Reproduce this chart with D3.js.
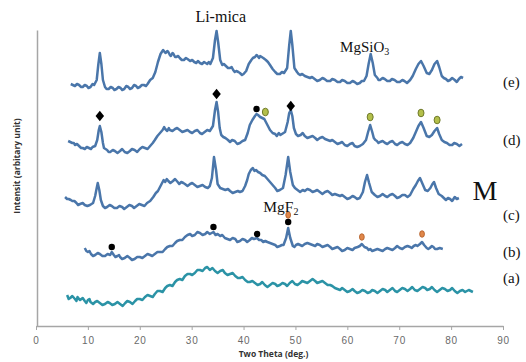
<!DOCTYPE html>
<html><head><meta charset="utf-8">
<script src="https://cdn.jsdelivr.net/npm/d3@7"></script>
<style>html,body{margin:0;padding:0;background:#fff;}svg{display:block;}</style>
</head><body>
<svg id="chart" width="526" height="362"></svg>
<script>
// ---- data (2θ in degrees, intensity in arbitrary units incl. vertical stacking) ----
const xTicks = [0,10,20,30,40,50,60,70,80,90];
const seriesNames = ["(e)","(d)","(c)","(b)","(a)"];
const labelLevels = [239,181,106,69,43];

const curveE = [[6.7,242],[7.1,241],[7.5,240],[7.9,242],[8.3,241],[8.7,239],[9.0,239],[9.4,241],[9.8,240],[10.1,238],[10.5,239],[10.9,242],[11.2,241],[11.7,246],[12.0,261],[12.3,273],[12.6,262],[12.9,246],[13.3,239],[13.6,237],[14.0,237],[14.4,239],[14.8,238],[15.1,236],[15.5,237],[15.9,239],[16.3,238],[16.6,236],[17.0,237],[17.4,240],[17.8,239],[18.1,237],[18.5,238],[18.9,241],[19.3,240],[19.6,238],[20.0,239],[20.4,241],[20.8,241],[21.2,240],[21.5,242],[22.0,246],[22.5,248],[23.0,254],[23.5,264],[24.0,272],[24.5,276],[24.8,274],[25.0,273],[25.3,275],[25.5,274],[25.8,271],[26.0,270],[26.3,273],[26.5,272],[26.8,269],[27.0,269],[27.4,270],[27.7,268],[28.1,266],[28.5,266],[28.9,268],[29.2,267],[29.7,265],[30.1,266],[30.5,264],[30.9,263],[31.2,265],[31.6,263],[32.0,262],[32.4,264],[32.7,263],[33.0,262],[33.3,264],[33.6,262],[34.1,268],[34.5,286],[34.8,295],[35.1,284],[35.5,266],[35.9,261],[36.2,262],[36.6,260],[37.0,258],[37.4,258],[37.7,259],[38.0,256],[38.3,254],[38.6,255],[39.0,254],[39.3,253],[39.7,251],[40.0,252],[40.5,255],[41.0,262],[41.5,266],[41.8,268],[42.2,269],[42.5,271],[42.7,270],[43.0,268],[43.2,270],[43.5,269],[43.8,268],[44.3,266],[44.7,264],[45.1,261],[45.6,257],[46.1,254],[46.5,252],[47.0,252],[47.4,254],[47.8,253],[48.4,258],[48.8,281],[49.1,295],[49.4,281],[49.8,258],[50.3,254],[50.6,252],[50.9,251],[51.3,252],[51.8,250],[52.3,249],[52.8,248],[53.2,249],[53.7,247],[54.2,245],[54.7,246],[55.2,248],[55.6,247],[56.1,245],[56.7,245],[57.1,247],[57.6,246],[58.1,244],[58.6,244],[59.0,246],[59.5,245],[60.0,243],[60.5,243],[61.0,245],[61.4,244],[61.9,242],[62.4,243],[62.8,245],[63.2,245],[63.7,250],[64.1,262],[64.5,272],[64.9,263],[65.3,251],[65.8,248],[66.0,246],[66.3,246],[66.8,248],[67.2,247],[67.7,245],[68.2,245],[68.6,247],[69.1,246],[69.6,244],[70.1,244],[70.6,246],[71.0,245],[71.5,243],[72.1,246],[72.6,250],[73.2,257],[73.7,262],[74.2,265],[74.7,260],[75.3,253],[75.8,252],[76.3,256],[76.8,262],[77.3,265],[77.7,259],[78.2,250],[78.6,248],[79.0,247],[79.4,245],[79.8,246],[80.2,248],[80.7,246],[81.1,244],[81.5,247],[81.9,249],[82.3,248]];

const curveD = [[6.2,185],[6.6,184],[7.0,183],[7.3,183],[7.5,181],[7.9,182],[8.3,180],[8.7,178],[9.0,178],[9.4,177],[9.8,179],[10.2,178],[10.6,177],[10.9,179],[11.4,180],[11.8,186],[12.1,196],[12.3,200],[12.6,194],[12.9,183],[13.1,178],[13.4,177],[13.7,176],[14.0,174],[14.3,174],[14.8,176],[15.2,175],[15.7,173],[16.2,175],[16.6,177],[17.1,174],[17.6,173],[18.1,175],[18.5,177],[19.0,176],[19.5,174],[20.0,177],[20.5,179],[21.0,178],[21.5,177],[22.0,180],[22.5,183],[22.9,186],[23.4,190],[23.9,193],[24.4,196],[24.7,199],[24.9,197],[25.3,195],[25.6,198],[25.8,196],[26.3,195],[26.8,197],[27.2,198],[27.7,196],[28.2,194],[28.7,195],[29.2,196],[29.7,194],[30.1,193],[30.6,195],[31.1,196],[31.6,193],[32.0,192],[32.5,194],[33.0,196],[33.5,195],[34.1,200],[34.5,216],[34.8,224],[35.1,214],[35.4,198],[35.7,191],[36.1,189],[36.5,188],[37.0,186],[37.4,184],[37.8,186],[38.3,185],[38.8,182],[39.3,183],[39.8,185],[40.3,186],[40.8,193],[41.2,201],[41.7,206],[42.2,210],[42.5,212],[42.8,211],[43.2,209],[43.6,208],[44.0,207],[44.3,204],[44.7,200],[45.1,196],[45.6,193],[46.1,192],[46.4,190],[46.8,193],[47.1,191],[47.4,192],[48.0,194],[48.5,204],[48.8,213],[49.1,216],[49.4,210],[49.7,198],[50.1,192],[50.5,190],[51.0,191],[51.4,193],[51.8,190],[52.3,188],[52.8,189],[53.3,190],[53.8,188],[54.2,186],[54.7,188],[55.2,189],[55.7,187],[56.2,186],[56.7,185],[57.1,186],[57.6,184],[58.1,182],[58.6,183],[59.0,184],[59.5,181],[60.0,180],[60.5,182],[61.0,183],[61.4,180],[61.9,179],[62.4,180],[63.0,182],[63.6,186],[64.0,194],[64.4,201],[64.8,194],[65.1,188],[65.4,186],[65.7,185],[66.0,183],[66.3,184],[66.8,185],[67.3,183],[67.7,182],[68.2,184],[68.7,185],[69.2,182],[69.6,181],[70.1,183],[70.6,184],[71.1,182],[71.6,181],[72.1,183],[72.7,188],[73.2,194],[73.7,200],[74.2,204],[74.7,198],[75.3,190],[75.8,189],[76.3,191],[76.8,195],[77.3,198],[77.7,192],[78.2,186],[78.7,184],[79.2,183],[79.7,181],[80.2,181],[80.6,183],[81.1,182],[81.6,180],[82.1,182]];

const curveC = [[5.6,129],[6.0,127],[6.3,127],[6.7,126],[7.0,125],[7.4,125],[7.8,123],[8.1,121],[8.5,122],[9.0,123],[9.4,121],[9.9,120],[10.4,121],[10.7,122],[11.0,123],[11.4,130],[11.7,138],[11.9,143],[12.2,136],[12.5,126],[12.9,120],[13.3,118],[13.7,119],[14.2,121],[14.6,120],[15.1,118],[15.6,118],[16.1,120],[16.6,119],[17.0,117],[17.5,119],[18.0,121],[18.5,120],[18.9,118],[19.4,120],[19.9,122],[20.4,121],[20.9,120],[21.4,123],[22.0,125],[22.6,129],[23.1,133],[23.5,135],[23.8,138],[24.3,143],[24.6,146],[24.9,144],[25.2,147],[25.5,145],[25.9,143],[26.4,145],[26.8,147],[27.3,144],[27.6,142],[28.0,144],[28.4,143],[28.7,142],[29.2,140],[29.7,142],[30.1,143],[30.6,141],[31.1,139],[31.6,140],[32.1,141],[32.6,139],[33.1,138],[33.5,140],[33.9,148],[34.3,169],[34.7,156],[35.0,142],[35.5,138],[36.0,137],[36.5,136],[37.0,137],[37.4,135],[37.9,133],[38.4,134],[38.9,135],[39.3,134],[39.8,135],[40.3,140],[40.7,146],[41.0,152],[41.4,156],[41.8,158],[42.1,155],[42.4,156],[42.8,154],[43.2,153],[43.6,151],[44.1,150],[44.6,147],[45.1,144],[45.6,141],[46.1,138],[46.5,135],[47.0,136],[47.3,137],[47.6,138],[48.1,151],[48.6,169],[49.0,154],[49.5,141],[49.9,138],[50.4,136],[50.9,134],[51.4,136],[51.8,135],[52.3,137],[52.8,136],[53.3,134],[53.8,135],[54.2,136],[54.7,134],[55.2,132],[55.7,134],[56.2,135],[56.7,133],[57.1,131],[57.6,132],[58.1,131],[58.6,130],[59.0,131],[59.5,129],[60.0,127],[60.5,128],[61.0,130],[61.4,129],[61.9,127],[62.4,128],[63.0,134],[63.4,144],[63.8,151],[64.2,143],[64.7,134],[65.3,131],[65.8,129],[66.3,130],[66.8,132],[67.3,130],[67.7,129],[68.2,131],[68.7,132],[69.2,130],[69.6,128],[70.1,129],[70.6,131],[71.1,131],[71.6,129],[72.1,131],[72.7,137],[73.2,141],[73.6,145],[74.0,148],[74.5,142],[75.0,136],[75.5,135],[76.0,138],[76.4,142],[76.7,144],[77.1,138],[77.6,132],[78.2,130],[78.6,128],[79.0,126],[79.4,128],[79.8,127],[80.2,125],[80.7,129],[81.1,127],[81.5,128]];

const curveB = [[9.4,78],[9.7,75],[10.0,74],[10.3,75],[10.6,72],[11.0,70],[11.4,71],[11.9,73],[12.3,72],[12.8,70],[13.3,70],[13.8,72],[14.3,71],[14.6,74],[15.0,71],[15.3,69],[15.7,70],[16.0,71],[16.2,69],[16.6,67],[17.1,68],[17.6,70],[18.1,68],[18.5,66],[19.0,67],[19.5,69],[20.0,69],[20.5,68],[21.0,70],[21.5,72],[22.0,71],[22.4,70],[22.9,72],[23.4,74],[23.9,74],[24.4,74],[24.9,77],[25.3,79],[25.8,80],[26.3,80],[26.8,83],[27.2,85],[27.7,86],[28.2,86],[28.7,89],[29.2,91],[29.7,92],[30.1,90],[30.6,91],[31.1,94],[31.6,93],[32.1,91],[32.6,92],[33.0,94],[33.5,92],[34.2,94],[34.6,91],[35.0,92],[35.5,90],[35.9,91],[36.4,88],[36.9,87],[37.4,86],[37.9,88],[38.4,87],[38.8,84],[39.3,85],[39.8,87],[40.3,86],[40.7,84],[41.2,86],[41.6,88],[42.0,87],[42.6,88],[43.0,86],[43.4,86],[43.8,84],[44.2,85],[44.6,84],[45.1,83],[45.6,82],[46.1,81],[46.5,79],[47.0,80],[47.4,81],[47.7,81],[48.2,88],[48.6,98],[49.0,88],[49.5,80],[49.8,79],[50.1,81],[50.5,82],[50.9,81],[51.3,80],[51.8,82],[52.3,83],[52.8,82],[53.3,81],[53.8,80],[54.2,82],[54.7,81],[55.2,79],[55.7,80],[56.2,81],[56.7,79],[57.1,77],[57.6,78],[58.1,79],[58.6,77],[59.0,75],[59.5,76],[60.0,78],[60.5,77],[61.0,76],[61.4,78],[62.0,79],[62.4,80],[62.8,82],[63.3,79],[63.8,78],[64.1,76],[64.4,77],[64.8,75],[65.3,76],[65.8,77],[66.3,76],[66.8,75],[67.3,77],[67.7,78],[68.2,77],[68.7,76],[69.2,78],[69.6,80],[70.1,78],[70.6,77],[71.1,79],[71.6,80],[72.1,79],[72.4,78],[72.8,80],[73.2,81],[73.5,80],[74.0,82],[74.4,84],[74.8,81],[75.3,78],[75.6,77],[75.9,78],[76.3,80],[76.6,79],[76.9,77],[77.3,77],[77.8,78],[78.4,77]];

const curveA = [[6.0,31],[6.3,27],[6.6,28],[7.0,30],[7.5,27],[7.8,25],[8.0,29],[8.3,27],[8.5,26],[9.0,28],[9.4,25],[9.7,23],[10.0,26],[10.3,27],[10.5,24],[11.0,22],[11.4,24],[11.8,25],[12.3,23],[12.8,21],[13.3,22],[13.8,24],[14.2,23],[14.7,21],[15.2,22],[15.7,24],[16.2,22],[16.7,20],[17.2,23],[17.6,25],[18.1,24],[18.6,22],[19.1,25],[19.5,27],[20.0,27],[20.5,26],[21.0,29],[21.5,31],[22.0,30],[22.5,29],[22.9,32],[23.4,35],[23.9,35],[24.4,34],[24.9,38],[25.3,40],[25.8,41],[26.3,40],[26.8,44],[27.2,46],[27.7,47],[28.2,46],[28.7,50],[29.2,52],[29.7,52],[30.1,51],[30.6,53],[31.1,56],[31.6,56],[32.1,55],[32.6,58],[33.0,59],[33.5,56],[34.0,58],[34.5,55],[35.0,53],[35.5,55],[36.0,56],[36.4,53],[36.9,51],[37.4,52],[37.9,53],[38.4,50],[38.9,48],[39.3,48],[39.8,49],[40.3,46],[40.8,44],[41.2,44],[41.7,45],[42.2,43],[42.7,41],[43.2,42],[43.6,44],[44.1,41],[44.6,39],[45.1,41],[45.6,43],[46.1,42],[46.5,40],[47.0,41],[47.5,43],[48.0,42],[48.4,40],[48.9,43],[49.4,45],[49.9,42],[50.4,41],[50.9,43],[51.3,45],[51.8,44],[52.3,43],[52.8,45],[53.3,47],[53.8,45],[54.2,43],[54.7,44],[55.2,45],[55.7,43],[56.2,41],[56.7,41],[57.1,40],[57.6,38],[58.1,37],[58.6,36],[59.0,38],[59.5,36],[60.0,34],[60.5,35],[61.0,37],[61.4,35],[61.9,33],[62.4,34],[62.9,36],[63.4,35],[63.9,33],[64.4,34],[64.8,36],[65.3,35],[65.8,33],[66.3,35],[66.8,37],[67.3,36],[67.7,34],[68.2,36],[68.7,38],[69.2,35],[69.6,34],[70.1,36],[70.6,38],[71.1,37],[71.6,35],[72.1,37],[72.5,39],[73.0,36],[73.5,35],[74.0,37],[74.5,39],[75.0,38],[75.4,36],[75.9,37],[76.3,39],[76.8,36],[77.3,34],[77.8,36],[78.3,38],[78.8,37],[79.3,35],[79.8,36],[80.2,38],[80.7,35],[81.2,33],[81.7,35],[82.2,36],[82.7,34],[83.4,36],[84.2,34]];

// phase markers
const liMicaMarks = [[12.3,210],[34.8,232],[49.1,220]];          // black diamonds on (d)
const mgF2MarksD = [[42.5,217]];                                  // black dot on (d)
const mgSiO3Marks = [[44.2,214],[64.4,209],[74.2,213],[77.3,206]]; // green on (d)
const mgF2MarksB = [[14.6,79],[34.2,99],[42.6,92],[48.6,104]];    // black dots on (b)
const orangeMarksB = [[48.6,111],[62.8,89],[74.4,92]];            // orange on (b)

// ---- chart ----
const svg = d3.select("#chart");
const x = d3.scaleLinear().domain([0,90]).range([36,503]);
const y = d3.scaleLinear().domain([0,296]).range([326,30]);

// axes
const xAxis = d3.axisBottom(x).tickValues(xTicks).tickSize(4).tickSizeOuter(0).tickPadding(7);
const gx = svg.append("g").attr("transform",`translate(0,${y(0)})`).call(xAxis);
gx.select(".domain").attr("stroke","#a6a6a6").attr("stroke-width",1.5);
gx.selectAll(".tick line").attr("stroke","#a6a6a6").attr("stroke-width",1);
gx.selectAll(".tick text").attr("fill","#6a6a6a").attr("font-family","'Liberation Sans', Arial, sans-serif")
  .attr("font-size",10).attr("letter-spacing","0.8px");

const yAxis = d3.axisLeft(y).tickValues([]).tickSizeOuter(0);
const gy = svg.append("g").attr("transform",`translate(${x(0)+1},0)`).call(yAxis);
gy.select(".domain").attr("stroke","#a6a6a6").attr("stroke-width",1.5);

svg.append("text").attr("x",(x(0)+x(90))/2+4).attr("y",357).attr("text-anchor","middle")
  .attr("font-family","'Open Sans', 'Liberation Sans', sans-serif").attr("font-weight","bold")
  .attr("font-size",8.5).attr("fill","#333").text("Two Theta (deg.)");
svg.append("text").attr("transform","translate(20,166) rotate(-90)").attr("text-anchor","middle")
  .attr("font-family","'Open Sans', 'Liberation Sans', sans-serif").attr("font-weight","bold")
  .attr("font-size",8.5).attr("fill","#333").text("Intensit (arbitary unit)");

// curves
const line = d3.line().x(d=>x(d[0])).y(d=>y(d[1]));
const curves = [
  {data:curveE,color:"#4a76aa"},
  {data:curveD,color:"#4a76aa"},
  {data:curveC,color:"#4a76aa"},
  {data:curveB,color:"#4a76aa"},
  {data:curveA,color:"#2b93a6"}
];
svg.append("g").selectAll("path").data(curves).join("path")
  .attr("d",d=>line(d.data)).attr("fill","none").attr("stroke",d=>d.color)
  .attr("stroke-width",2.5).attr("stroke-linejoin","round");

// markers
const diamond = d3.symbol().type(d3.symbolDiamond).size(40);
svg.append("g").selectAll("path").data(liMicaMarks).join("path")
  .attr("d",diamond).attr("transform",d=>`translate(${x(d[0])},${y(d[1])}) scale(1.25,0.9)`).attr("fill","#000");
svg.append("g").selectAll("circle").data(mgF2MarksD.concat(mgF2MarksB)).join("circle")
  .attr("cx",d=>x(d[0])).attr("cy",d=>y(d[1])).attr("r",3.2).attr("fill","#000");
svg.append("g").selectAll("ellipse").data(mgSiO3Marks).join("ellipse")
  .attr("cx",d=>x(d[0])).attr("cy",d=>y(d[1])).attr("rx",3).attr("ry",3.8)
  .attr("fill","#b3bf4a").attr("stroke","#6f7a2a").attr("stroke-width",1);
svg.append("g").selectAll("ellipse").data(orangeMarksB).join("ellipse")
  .attr("cx",d=>x(d[0])).attr("cy",d=>y(d[1])).attr("rx",2.4).attr("ry",3.3)
  .attr("fill","#e0874a").attr("stroke","#b05a25").attr("stroke-width",0.8);

// annotations
const serif = "'Liberation Serif', 'Times New Roman', serif";
svg.append("text").attr("x",x(35.6)).attr("y",y(304)).attr("text-anchor","middle")
  .attr("font-family",serif).attr("font-size",16).attr("fill","#111").text("Li-mica");
const ms = svg.append("text").attr("x",x(58.6)).attr("y",y(274))
  .attr("font-family",serif).attr("font-size",15).attr("fill","#111");
ms.append("tspan").text("MgSiO");
ms.append("tspan").attr("font-size",10).attr("dy",3).text("3");
const mf = svg.append("text").attr("x",x(43.8)).attr("y",y(114))
  .attr("font-family",serif).attr("font-size",15.5).attr("fill","#111");
mf.append("tspan").text("MgF");
mf.append("tspan").attr("font-size",10).attr("dy",3).text("2");
svg.append("text").attr("x",x(84.1)).attr("y",y(126)).attr("font-family",serif)
  .attr("font-size",28).attr("fill","#111").text("M");

svg.append("g").selectAll("text").data(seriesNames).join("text")
  .attr("x",x(90)).attr("y",(d,i)=>y(labelLevels[i])).attr("font-family",serif)
  .attr("font-size",15).attr("fill","#111").text(d=>d);
</script>
</body></html>
